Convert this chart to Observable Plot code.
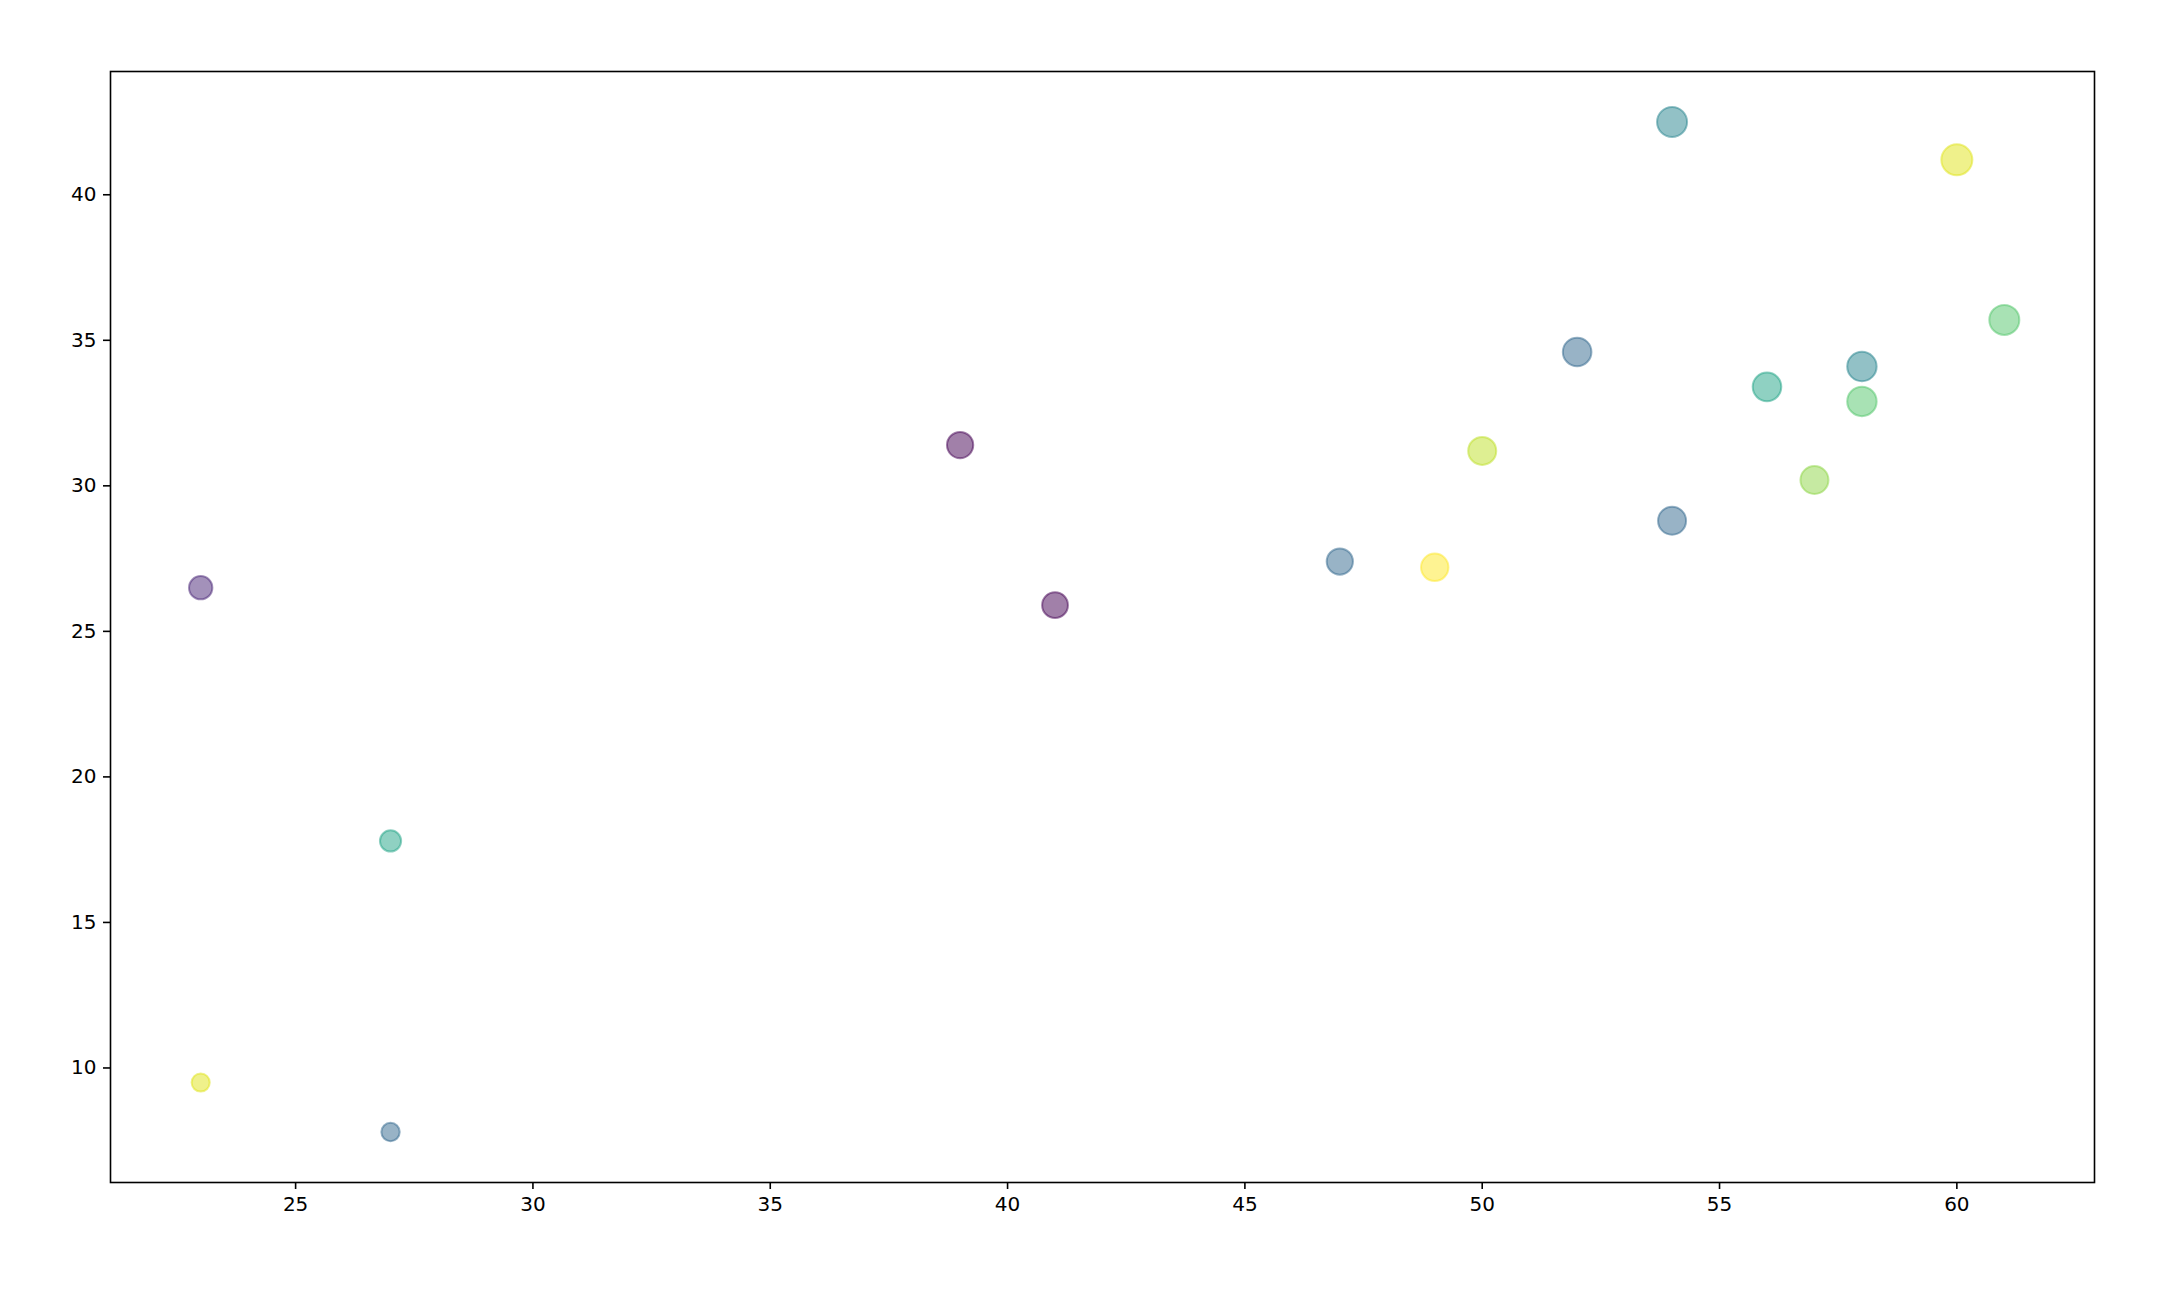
<!DOCTYPE html>
<html>
<head>
<meta charset="utf-8">
<script src="https://cdn.jsdelivr.net/npm/d3@7"></script>
<script src="https://cdn.jsdelivr.net/npm/@observablehq/plot@0.6"></script>
<style>
  html, body { margin: 0; padding: 0; background: #fff; }
  #chart svg { display: block; }
</style>
</head>
<body>
<div id="chart"></div>
<script>
// Data
const xs = [23, 23, 27, 27, 39, 41, 47, 49, 50, 52, 54, 54, 56, 57, 58, 58, 60, 61];
const ys = [26.5, 9.5, 17.8, 7.8, 31.4, 25.9, 27.4, 27.2, 31.2, 34.6, 42.5, 28.8, 33.4, 30.2, 34.1, 32.9, 41.2, 35.7];
const sizes = [136, 82, 112, 84, 172, 166, 172, 188, 196, 204, 225, 196, 204, 196, 216, 216, 240, 225];
const colors = [0.1, 0.95, 0.58, 0.33, 0.0, 0.0, 0.33, 1.0, 0.9, 0.33, 0.45, 0.33, 0.58, 0.83, 0.45, 0.73, 0.95, 0.73];
const xTicks = [25, 30, 35, 40, 45, 50, 55, 60];
const yTicks = [10, 15, 20, 25, 30, 35, 40];

const data = xs.map((x, i) => ({x, y: ys[i], s: sizes[i], c: colors[i]}));

function padded(vals) {
  const lo = d3.min(vals), hi = d3.max(vals), m = (hi - lo) * 0.05;
  return [lo - m, hi + m];
}

const chart = Plot.plot({
  width: 2177,
  height: 1298,
  marginLeft: 110,
  marginRight: 83,
  marginTop: 71,
  marginBottom: 116,
  style: {fontFamily: "DejaVu Sans", fontSize: "20px", color: "#000", background: "#fff"},
  x: {domain: padded(xs)},
  y: {domain: padded(ys)},
  r: {type: "sqrt", domain: [0, 240], range: [0, 15.5]},
  color: {type: "linear", scheme: "viridis", domain: [0, 1]},
  marks: [
    Plot.dot(data, {
      x: "x", y: "y", r: "s",
      fill: "c", stroke: "c",
      fillOpacity: 0.5, strokeOpacity: 0.5, strokeWidth: 2
    }),
    Plot.frame({stroke: "#000", strokeWidth: 1.6}),
    Plot.axisX({ticks: xTicks, tickSize: 7, tickPadding: 7, strokeWidth: 1.6, fontSize: 20, label: null}),
    Plot.axisY({ticks: yTicks, tickSize: 7, tickPadding: 7, strokeWidth: 1.6, fontSize: 20, label: null})
  ]
});
document.getElementById("chart").appendChild(chart);
</script>
</body>
</html>
